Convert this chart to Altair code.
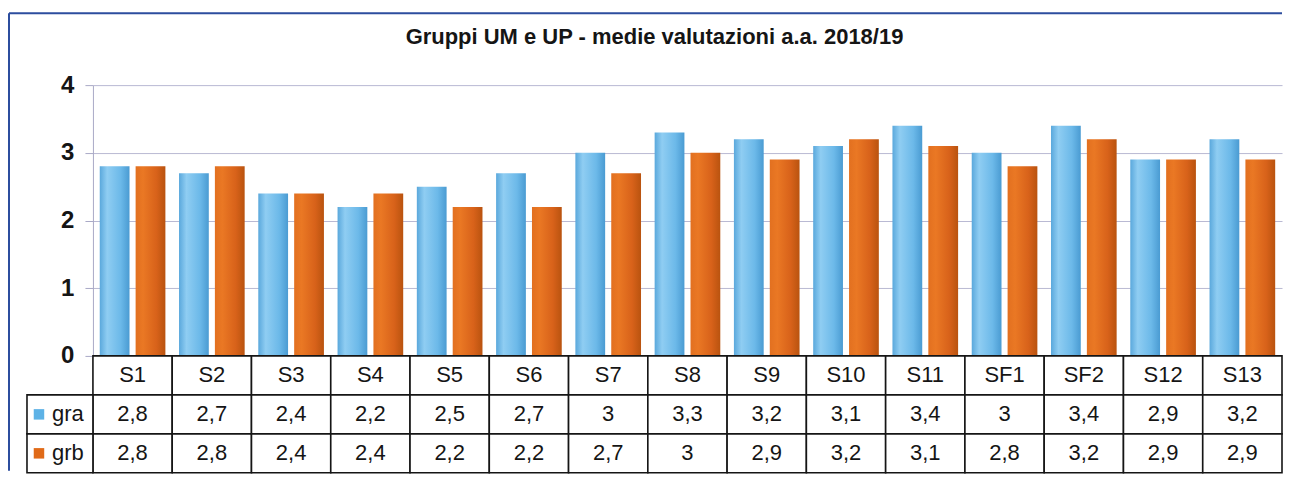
import altair as alt
import pandas as pd

title_text = "Gruppi UM e UP - medie valutazioni a.a. 2018/19"
cats = ["S1", "S2", "S3", "S4", "S5", "S6", "S7", "S8", "S9", "S10", "S11", "SF1", "SF2", "S12", "S13"]
gra = [2.8, 2.7, 2.4, 2.2, 2.5, 2.7, 3, 3.3, 3.2, 3.1, 3.4, 3, 3.4, 2.9, 3.2]
grb = [2.8, 2.8, 2.4, 2.4, 2.2, 2.2, 2.7, 3, 2.9, 3.2, 3.1, 2.8, 3.2, 2.9, 2.9]
series = ["gra", "grb"]
colors = ["#5db2e6", "#e06a18"]
y_ticks = [0, 1, 2, 3, 4]


def fmt(v):
    return f"{v:g}".replace(".", ",")


bars_df = pd.DataFrame({
    "cat": cats * 2,
    "series": ["gra"] * len(cats) + ["grb"] * len(cats),
    "value": gra + grb,
})
rows = []
for c, a, b in zip(cats, gra, grb):
    rows.append({"cat": c, "row": "head", "text": c})
    rows.append({"cat": c, "row": "gra", "text": fmt(a)})
    rows.append({"cat": c, "row": "grb", "text": fmt(b)})
table_df = pd.DataFrame(rows)
legend_df = pd.DataFrame({"row": series, "text": series})
one = pd.DataFrame({"t": [title_text]})

W = 1190
PH = 271
TH = 117
H = PH + TH
FONT = "Liberation Sans"

xs = alt.X("cat:N", sort=cats,
           scale=alt.Scale(domain=cats, paddingInner=0, paddingOuter=0),
           axis=None)
xo = alt.XOffset("series:N",
                 scale=alt.Scale(domain=series, paddingInner=0.17, paddingOuter=0.19))
yq = alt.Y("value:Q",
           scale=alt.Scale(domain=[0, 4], range=[PH, 0], nice=False, zero=True),
           axis=alt.Axis(values=y_ticks, format="d", title=None,
                         labelFont=FONT, labelFontSize=24, labelFontWeight="bold",
                         labelColor="#151515", labelPadding=11, tickSize=8,
                         tickColor="#a9a9c6", domainColor="#a9a9c6",
                         grid=True, gridColor="#b9b9d3", gridWidth=1))

blue_grad = alt.Gradient(
    gradient="linear", x1=0, x2=1, y1=0, y2=0,
    stops=[alt.GradientStop(color="#5aa8dc", offset=0),
           alt.GradientStop(color="#8fcdf2", offset=0.25),
           alt.GradientStop(color="#6cb9e9", offset=0.7),
           alt.GradientStop(color="#4a9bd2", offset=1)])
orange_grad = alt.Gradient(
    gradient="linear", x1=0, x2=1, y1=0, y2=0,
    stops=[alt.GradientStop(color="#e27020", offset=0),
           alt.GradientStop(color="#ea7824", offset=0.25),
           alt.GradientStop(color="#d8621a", offset=0.7),
           alt.GradientStop(color="#b9530f", offset=1)])

bar_a = alt.Chart(bars_df).transform_filter(alt.datum.series == "gra").mark_bar(
    fill=blue_grad).encode(x=xs, xOffset=xo, y=yq)
bar_b = alt.Chart(bars_df).transform_filter(alt.datum.series == "grb").mark_bar(
    fill=orange_grad).encode(x=xs, xOffset=xo, y=yq)
bars = alt.layer(bar_a, bar_b)

yr = alt.Y("row:N",
           scale=alt.Scale(domain=["head", "gra", "grb"], range=[PH, H],
                           paddingInner=0, paddingOuter=0),
           axis=None)
cells = alt.Chart(table_df).mark_rect(fill="white", stroke="#151515", strokeWidth=1.6).encode(
    x=xs, y=yr)
cell_text = alt.Chart(table_df).mark_text(font=FONT, fontSize=22, color="#151515").encode(
    x=xs, y=yr, text="text:N")
leg_cells = alt.Chart(legend_df).mark_rect(fill="white", stroke="#151515", strokeWidth=1.6).encode(
    x=alt.value(-66), x2=alt.value(0), y=yr)
leg_sq = alt.Chart(legend_df).mark_square(size=110, opacity=1).encode(
    x=alt.value(-54), y=yr,
    color=alt.Color("row:N", scale=alt.Scale(domain=series, range=colors), legend=None))
leg_text = alt.Chart(legend_df).mark_text(font=FONT, fontSize=22, color="#151515", align="left").encode(
    x=alt.value(-41), y=yr, text="text:N")
table = alt.layer(cells, cell_text, leg_cells, leg_sq, leg_text)

title = alt.Chart(one).mark_text(font=FONT, fontSize=22, fontWeight="bold", color="#151515",
                                 baseline="alphabetic").encode(
    x=alt.value(562), y=alt.value(-41), text="t:N")
frame_top = alt.Chart(one).mark_rule(color="#2c4d9e", strokeWidth=2).encode(
    x=alt.value(-84), x2=alt.value(W), y=alt.value(-72))
frame_left = alt.Chart(one).mark_rule(color="#2c4d9e", strokeWidth=2).encode(
    x=alt.value(-84), y=alt.value(-72), y2=alt.value(386))

chart = alt.layer(frame_top, frame_left, title, bars, table).resolve_scale(
    y="independent", color="independent"
).properties(
    width=W, height=H,
    padding={"left": 0, "top": 4, "right": 0, "bottom": 0},
    background="white",
).configure_view(stroke=None)

chart.save("out.html", embed_options={"renderer": "svg", "actions": False})
